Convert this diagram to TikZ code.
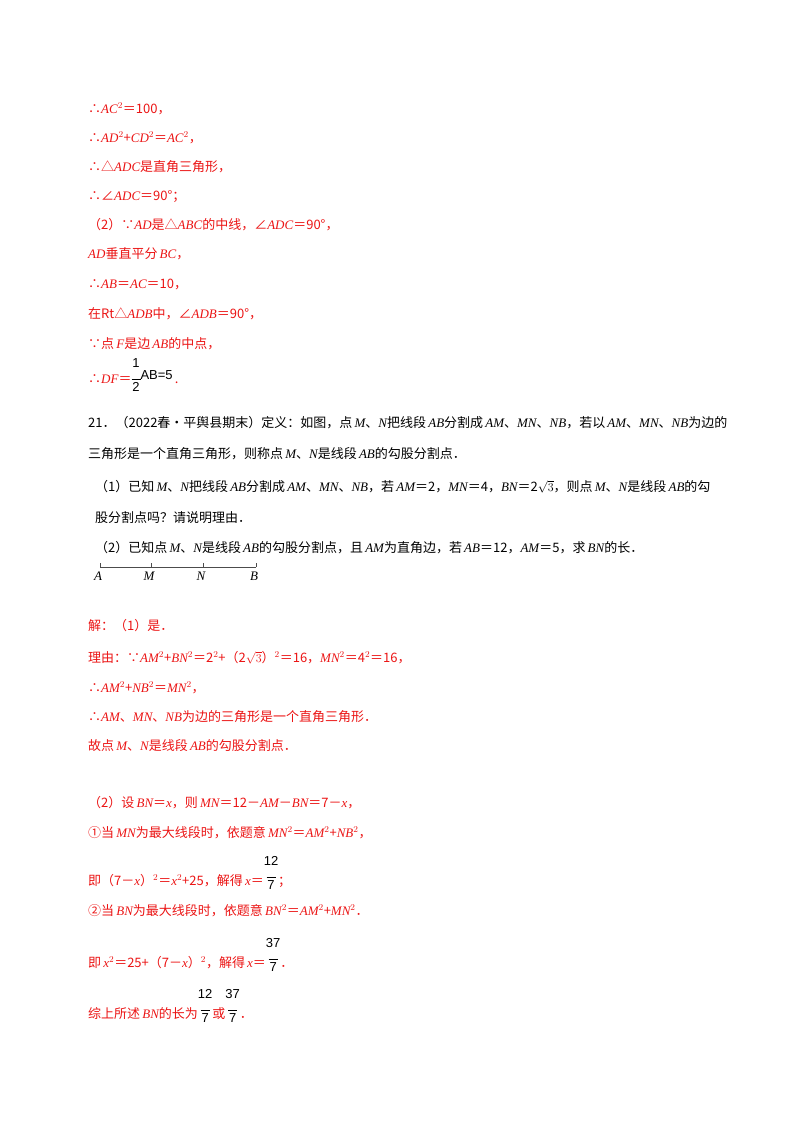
\documentclass[tikz,border=0pt]{standalone}
\usetikzlibrary{calc}
\usepackage{fontspec}
\setmainfont{Noto Sans CJK SC}
\newfontfamily\lat{Liberation Serif}
\newfontfamily\las{Liberation Sans}
\newcommand{\vv}[1]{{\lat\itshape #1}}
\newcommand{\fr}[2]{$\vcenter{\hbox{\las\begin{tabular}{@{}c@{}}#1\\[-3pt]\rule{9pt}{0.5pt}\\[-3pt]#2\end{tabular}}}$}
\definecolor{rd}{RGB}{235,20,20}
\begin{document}
\begin{tikzpicture}[x=1pt,y=-1pt,
  ln/.style={anchor=base west,inner sep=0pt,font=\fontsize{13}{15}\selectfont},
  r/.style={ln,text=rd}]
\useasboundingbox (0,0) rectangle (800,1132);
\node[r] (l1) at (88,113) {∴\vv{AC}$^{2}$＝100，};
\node[r] (l2) at (88,142) {∴\vv{AD}$^{2}$+\vv{CD}$^{2}$＝\vv{AC}$^{2}$，};
\node[r] (l3) at (88,171) {∴△\vv{ADC}是直角三角形，};
\node[r] (l4) at (88,200) {∴∠\vv{ADC}＝90°；};
\node[r] (l5) at (88,229) {（2）∵\vv{AD}是△\vv{ABC}的中线，∠\vv{ADC}＝90°，};
\node[r] (l6) at (88,258) {\vv{AD}垂直平分\,\vv{BC}，};
\node[r] (l7) at (88,288) {∴\vv{AB}＝\vv{AC}＝10，};
\node[r] (l8) at (88,318) {在Rt△\vv{ADB}中，∠\vv{ADB}＝90°，};
\node[r] (l9) at (88,348) {∵点\,\vv{F}是边\,\vv{AB}的中点，};
\node[r] (l10) at (88,383) {∴\vv{DF}＝\textcolor{black}{\raisebox{4pt}{\fr{1}{2}{\las AB=5}}}\,.};
\node[ln] (p1) at (88,427) {21．（2022春•平舆县期末）定义：如图，点\,\vv{M}、\vv{N}把线段\,\vv{AB}分割成\,\vv{AM}、\vv{MN}、\vv{NB}，若以\,\vv{AM}、\vv{MN}、\vv{NB}为边的};
\node[ln] (p2) at (88,458) {三角形是一个直角三角形，则称点\,\vv{M}、\vv{N}是线段\,\vv{AB}的勾股分割点．};
\node[ln] (p3) at (95,491) {（1）已知\,\vv{M}、\vv{N}把线段\,\vv{AB}分割成\,\vv{AM}、\vv{MN}、\vv{NB}，若\,\vv{AM}＝2，\vv{MN}＝4，\vv{BN}＝2$\sqrt{3}$，则点\,\vv{M}、\vv{N}是线段\,\vv{AB}的勾};
\node[ln] (p4) at (95,522) {股分割点吗？请说明理由．};
\node[ln] (p5) at (95,552) {（2）已知点\,\vv{M}、\vv{N}是线段\,\vv{AB}的勾股分割点，且\,\vv{AM}为直角边，若\,\vv{AB}＝12，\vv{AM}＝5，求\,\vv{BN}的长．};
\coordinate (A) at (100,567); \coordinate (M) at (151,567);
\coordinate (N) at (203,567); \coordinate (B) at (256,567);
\draw[thick,gray!60!black] (A) -- (B);
\foreach \p in {A,M,N,B} \draw[gray!60!black] (\p) -- ++(0,-4);
\foreach \p in {A,M,N,B} \node[font=\lat\itshape\fontsize{13}{15}\selectfont,inner sep=0pt,anchor=north] at ($(\p)+(-2,5)$) {\p};
\node[r] (s1) at (88,630) {解：（1）是．};
\node[r] (s2) at (88,662) {理由：∵\vv{AM}$^{2}$+\vv{BN}$^{2}$＝2$^{2}$+（2$\sqrt{3}$）$^{2}$＝16，\vv{MN}$^{2}$＝4$^{2}$＝16，};
\node[r] (s3) at (88,692) {∴\vv{AM}$^{2}$+\vv{NB}$^{2}$＝\vv{MN}$^{2}$，};
\node[r] (s4) at (88,721) {∴\vv{AM}、\vv{MN}、\vv{NB}为边的三角形是一个直角三角形．};
\node[r] (s5) at (88,750) {故点\,\vv{M}、\vv{N}是线段\,\vv{AB}的勾股分割点．};
\node[r] (t1) at (88,807) {（2）设\,\vv{BN}＝\vv{x}，则\,\vv{MN}＝12－\vv{AM}－\vv{BN}＝7－\vv{x}，};
\node[r] (t2) at (88,837) {①当\,\vv{MN}为最大线段时，依题意\,\vv{MN}$^{2}$＝\vv{AM}$^{2}$+\vv{NB}$^{2}$，};
\node[r] (t3) at (88,885) {即（7－\vv{x}）$^{2}$＝\vv{x}$^{2}$+25，解得\,\vv{x}＝\textcolor{black}{\raisebox{8pt}{\fr{12}{7}}}；};
\node[r] (t4) at (88,915) {②当\,\vv{BN}为最大线段时，依题意\,\vv{BN}$^{2}$＝\vv{AM}$^{2}$+\vv{MN}$^{2}$．};
\node[r] (t5) at (88,967) {即\,\vv{x}$^{2}$＝25+（7－\vv{x}）$^{2}$，解得\,\vv{x}＝\textcolor{black}{\raisebox{8pt}{\fr{37}{7}}}．};
\node[r] (t6) at (88,1018) {综上所述\,\vv{BN}的长为\textcolor{black}{\raisebox{8pt}{\fr{12}{7}}}或\textcolor{black}{\raisebox{8pt}{\fr{37}{7}}}．};
\end{tikzpicture}
\end{document}
